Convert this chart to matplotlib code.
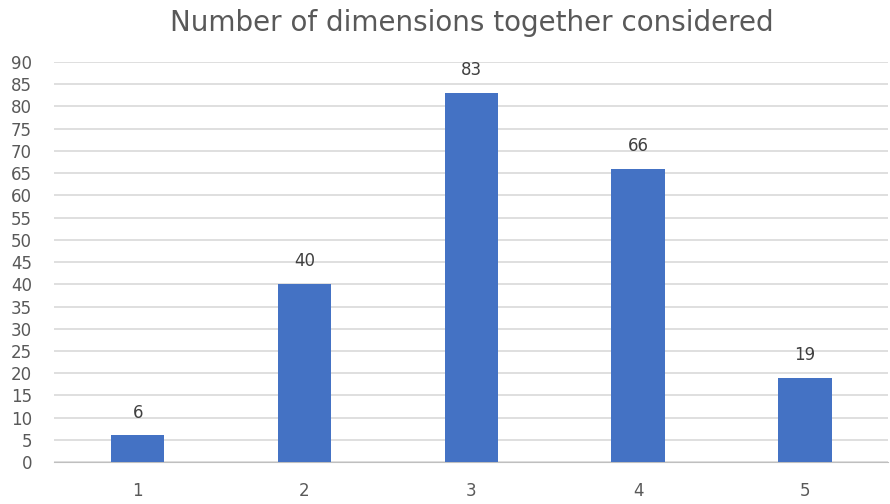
import matplotlib
matplotlib.use("Agg")
import matplotlib.pyplot as plt

# data
categories = ["1", "2", "3", "4", "5"]
counts = [6, 40, 83, 66, 19]
y_ticks = list(range(0, 95, 5))

fig = plt.figure(figsize=(8.9, 5.04), dpi=100)
ax = fig.add_axes([0.061, 0.083, 0.937, 0.794])

x = range(len(categories))
bars = ax.bar(x, counts, width=0.32, color="#4472C4", zorder=3)
for b, v in zip(bars, counts):
    ax.annotate(str(v), (b.get_x() + b.get_width() / 2, v),
                xytext=(0, 10), textcoords="offset points",
                ha="center", va="bottom", fontsize=12, color="#404040")

ax.set_xlim(-0.5, len(categories) - 0.5)
ax.set_ylim(0, 90)
ax.set_xticks(list(x))
ax.set_xticklabels(categories)
ax.set_yticks(y_ticks)
ax.tick_params(axis="both", length=0, labelsize=12, labelcolor="#595959")
ax.tick_params(axis="y", pad=16)
ax.tick_params(axis="x", pad=14)
ax.grid(axis="y", color="#D9D9D9", linewidth=1.2, zorder=0)
for s in ["top", "right", "left"]:
    ax.spines[s].set_visible(False)
ax.spines["bottom"].set_color("#BFBFBF")

# 軸の中央に合わせたタイトル
fig.text(0.53, 0.955, "Number of dimensions together considered",
         ha="center", va="center", fontsize=20, color="#595959")

plt.savefig("out.png", dpi=100)
plt.close(fig)
